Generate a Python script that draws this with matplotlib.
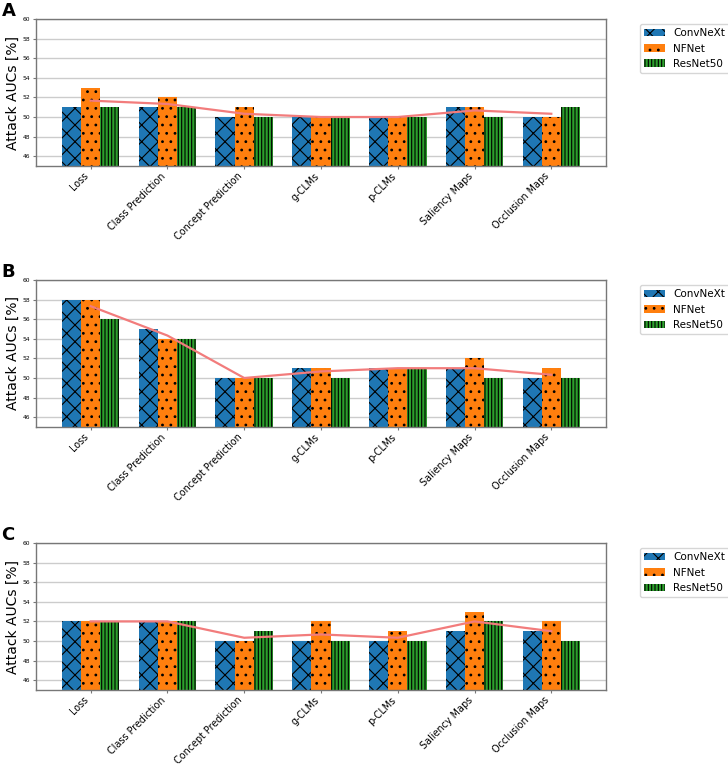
import matplotlib
matplotlib.use("Agg")
import matplotlib.pyplot as plt
import numpy as np

categories = ["Loss", "Class Prediction", "Concept Prediction", "g-CLMs",
              "p-CLMs", "Saliency Maps", "Occlusion Maps"]
models = ["ConvNeXt", "NFNet", "ResNet50"]

# Panel A
a_convnext = [51, 51, 50, 50, 50, 51, 50]
a_nfnet    = [53, 52, 51, 50, 50, 51, 50]
a_resnet   = [51, 51, 50, 50, 50, 50, 51]
a_mean     = [51.67, 51.33, 50.33, 50.0, 50.0, 50.67, 50.33]

# Panel B
b_convnext = [58, 55, 50, 51, 51, 51, 50]
b_nfnet    = [58, 54, 50, 51, 51, 52, 51]
b_resnet   = [56, 54, 50, 50, 51, 50, 50]
b_mean     = [57.33, 54.33, 50.0, 50.67, 51.0, 51.0, 50.33]

# Panel C
c_convnext = [52, 52, 50, 50, 50, 51, 51]
c_nfnet    = [52, 52, 50, 52, 51, 53, 52]
c_resnet   = [52, 52, 51, 50, 50, 52, 50]
c_mean     = [52.0, 52.0, 50.33, 50.67, 50.33, 52.0, 51.0]

panels = [
    ("A", [a_convnext, a_nfnet, a_resnet], a_mean),
    ("B", [b_convnext, b_nfnet, b_resnet], b_mean),
    ("C", [c_convnext, c_nfnet, c_resnet], c_mean),
]

colors = ["#1f77b4", "#ff7f0e", "#2ca02c"]
hatches = ["xx", "..", "|||||"]

W, H = 728, 768
fig = plt.figure(figsize=(W / 100, H / 100), dpi=100)
plt.rcParams["hatch.linewidth"] = 0.8

# axes pixel boxes (top, bottom)
boxes = [(19, 166), (280, 427), (543, 690)]
left_px, right_px = 36, 606

x = np.arange(len(categories))
bw = 0.25

for (label, series, mean), (top, bot) in zip(panels, boxes):
    ax = fig.add_axes([left_px / W, 1 - bot / H, (right_px - left_px) / W, (bot - top) / H])
    ax.set_axisbelow(True)
    ax.yaxis.grid(True, color="#cccccc", linewidth=1.0)
    for i, (vals, col, hat, name) in enumerate(zip(series, colors, hatches, models)):
        ax.bar(x + (i - 1) * bw, vals, width=bw, color=col, hatch=hat, label=name)
    ax.plot(x, mean, color="#f27c7c", linewidth=1.6, zorder=5)
    ax.set_ylim(45, 60)
    ax.set_yticks(np.arange(46, 61, 2))
    ax.tick_params(axis="y", labelsize=4.3, length=2, pad=2, color="#777777")
    ax.tick_params(axis="x", labelsize=6.9, length=2.5, pad=1, color="#777777")
    ax.set_xticks(x)
    ax.set_xticklabels(categories, rotation=45, ha="right")
    ax.set_ylabel("Attack AUCs [%]", fontsize=10, labelpad=2)
    for sp in ax.spines.values():
        sp.set_color("#777777")
        sp.set_linewidth(1.0)
    ax.legend(loc="upper left", bbox_to_anchor=(1.05, 1.0), fontsize=7.5,
              frameon=True, edgecolor="#cccccc")
    fig.text(0.002, 1 - (top - 17) / H, label, fontsize=13, fontweight="bold",
             va="top", ha="left")

fig.savefig("out.png", dpi=100)
